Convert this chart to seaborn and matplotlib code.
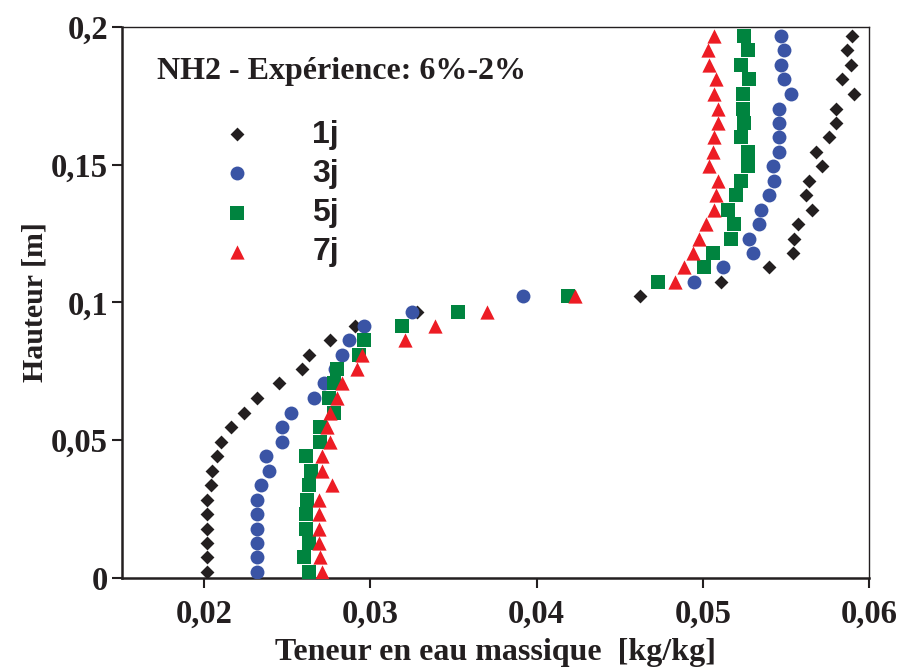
import matplotlib
matplotlib.use("Agg")
import matplotlib.pyplot as plt
import seaborn as sns
import pandas as pd

# ---- data ----
hauteur = [0.0023, 0.0075, 0.0127, 0.0179, 0.0232, 0.0284, 0.0338, 0.0390, 0.0443, 0.0495,
           0.0547, 0.0600, 0.0652, 0.0707, 0.0758, 0.0811, 0.0863, 0.0916, 0.0967, 0.1022,
           0.1074, 0.1127, 0.1179, 0.1232, 0.1286, 0.1337, 0.1390, 0.1441, 0.1495, 0.1548,
           0.1599, 0.1652, 0.1704, 0.1758, 0.1810, 0.1863, 0.1915, 0.1968]

teneur_1j = [0.0202, 0.0202, 0.0202, 0.0202, 0.0202, 0.0202, 0.0204, 0.0205, 0.0208, 0.0210,
             0.0216, 0.0224, 0.0232, 0.0245, 0.0259, 0.0263, 0.0276, 0.0291, 0.0328, 0.0462,
             0.0511, 0.0540, 0.0554, 0.0555, 0.0557, 0.0566, 0.0562, 0.0564, 0.0572, 0.0568,
             0.0576, 0.0580, 0.0580, 0.0591, 0.0584, 0.0589, 0.0587, 0.0590]
teneur_3j = [0.0232, 0.0232, 0.0232, 0.0232, 0.0232, 0.0232, 0.0234, 0.0239, 0.0237, 0.0247,
             0.0247, 0.0252, 0.0266, 0.0272, 0.0279, 0.0283, 0.0287, 0.0296, 0.0325, 0.0392,
             0.0495, 0.0512, 0.0530, 0.0528, 0.0534, 0.0535, 0.0540, 0.0543, 0.0542, 0.0546,
             0.0546, 0.0546, 0.0546, 0.0553, 0.0549, 0.0547, 0.0549, 0.0547]
teneur_5j = [0.0263, 0.0260, 0.0263, 0.0261, 0.0261, 0.0262, 0.0263, 0.0264, 0.0261, 0.0270,
             0.0270, 0.0278, 0.0275, 0.0278, 0.0280, 0.0293, 0.0296, 0.0319, 0.0353, 0.0419,
             0.0473, 0.0501, 0.0506, 0.0517, 0.0519, 0.0515, 0.0520, 0.0523, 0.0527, 0.0527,
             0.0523, 0.0525, 0.0524, 0.0524, 0.0528, 0.0523, 0.0527, 0.0525]
teneur_7j = [0.0271, 0.0270, 0.0269, 0.0269, 0.0269, 0.0269, 0.0277, 0.0271, 0.0271, 0.0276,
             0.0274, 0.0276, 0.0280, 0.0283, 0.0292, 0.0295, 0.0321, 0.0339, 0.0370, 0.0423,
             0.0483, 0.0489, 0.0494, 0.0498, 0.0502, 0.0507, 0.0508, 0.0509, 0.0504, 0.0506,
             0.0507, 0.0509, 0.0509, 0.0507, 0.0508, 0.0504, 0.0503, 0.0507]

series_labels = ["1j", "3j", "5j", "7j"]
x_ticks = [0.02, 0.03, 0.04, 0.05, 0.06]
x_ticklabels = ["0,02", "0,03", "0,04", "0,05", "0,06"]
y_ticks = [0.0, 0.05, 0.10, 0.15, 0.20]
y_ticklabels = ["0", "0,05", "0,1", "0,15", "0,2"]

# ---- styling ----
sns.set_style("ticks")
plt.rcParams["font.family"] = ["Liberation Serif", "DejaVu Serif"]
plt.rcParams["font.weight"] = "bold"

fig = plt.figure(figsize=(8.98, 6.71), dpi=100)
ax = fig.add_axes([0.1359, 0.1386, 0.8318, 0.8212])

styles = [
    (teneur_1j, "D", "#231f20", 50),
    (teneur_3j, "o", "#3a54a5", 100),
    (teneur_5j, "s", "#00843f", 90),
    (teneur_7j, "^", "#ed1c24", 105),
]
for lab, (vals, mk, col, s) in zip(series_labels, styles):
    df = pd.DataFrame({"x": vals, "y": hauteur})
    sns.scatterplot(data=df, x="x", y="y", marker=mk, color=col, s=s,
                    linewidth=0, ax=ax, label=lab, zorder=3)

ax.set_xlim(0.01506, 0.06)
ax.set_ylim(0.0, 0.2)
ax.set_xticks(x_ticks)
ax.set_xticklabels(x_ticklabels)
ax.set_yticks(y_ticks)
ax.set_yticklabels(y_ticklabels)

for side in ["left", "bottom"]:
    ax.spines[side].set_linewidth(1.8)
    ax.spines[side].set_color("#231f20")
for side in ["top", "right"]:
    ax.spines[side].set_visible(True)
    ax.spines[side].set_linewidth(1.0)
    ax.spines[side].set_color("#231f20")

ax.tick_params(axis="both", direction="out", length=7, width=1.5, color="#231f20",
               labelsize=23.5, labelcolor="#231f20")
ax.tick_params(axis="x", pad=8)
ax.tick_params(axis="y", pad=3)
for lbl in ax.get_xticklabels() + ax.get_yticklabels():
    lbl.set_fontweight("bold")

ax.set_xlabel("Teneur en eau massique  [kg/kg]", fontsize=23, fontweight="bold",
              color="#231f20", labelpad=6)
ax.set_ylabel("Hauteur [m]", fontsize=21.5, fontweight="bold", color="#231f20", labelpad=2)

ax.text(0.047, 0.92, "NH2 - Expérience: 6%-2%", transform=ax.transAxes,
        fontsize=23, fontweight="bold", color="#231f20", va="center", ha="left")

leg = ax.legend(loc="upper left", bbox_to_anchor=(0.133, 0.832), frameon=False,
                handlelength=1.0, handletextpad=1.85, labelspacing=0.29,
                borderpad=0, borderaxespad=0,
                prop={"family": "Liberation Sans", "weight": "bold", "size": 23})
for t in leg.get_texts():
    t.set_color("#231f20")

fig.savefig("out.png", dpi=100)
